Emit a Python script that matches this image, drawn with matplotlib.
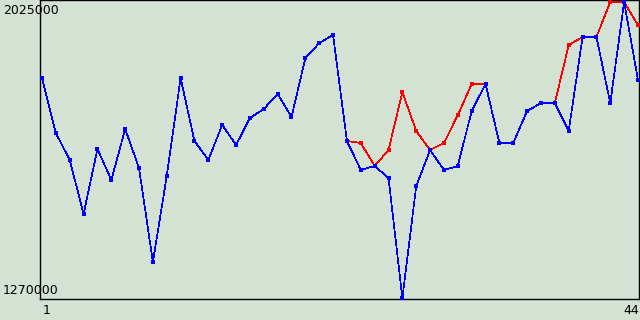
import matplotlib
matplotlib.use("Agg")
import matplotlib.pyplot as plt

# Data
days = list(range(1, 45))
blue_vals = [
    1829000, 1689000, 1621000, 1483500, 1649000, 1570000, 1699500, 1600500,
    1361500, 1580000, 1829000, 1669000, 1621000, 1710000, 1659000, 1727500,
    1750500, 1788500, 1730000, 1880000, 1918000, 1938500, 1669000, 1595500,
    1605500, 1575000, 1270000, 1554500, 1646000, 1595500, 1605500, 1745500,
    1814000, 1664000, 1664000, 1745500, 1765500, 1765500, 1694500, 1933500,
    1933500, 1765500, 2022500, 1824000,
]
red_vals = [
    1829000, 1689000, 1621000, 1483500, 1649000, 1570000, 1699500, 1600500,
    1361500, 1580000, 1829000, 1669000, 1621000, 1710000, 1659000, 1727500,
    1750500, 1788500, 1730000, 1880000, 1918000, 1938500, 1669000, 1664000,
    1605500, 1646000, 1793500, 1694500, 1646000, 1664000, 1735000, 1814000,
    1814000, 1664000, 1664000, 1745500, 1765500, 1765500, 1913000, 1933500,
    1933500, 2022500, 2022500, 1964000,
]
y_min, y_max = 1270000, 2025000
x_labels = ["1", "44"]

bg = "#d4e2d4"
fig = plt.figure(figsize=(6.4, 3.2), dpi=100, facecolor=bg)
ax = fig.add_axes([40 / 640, 21 / 320, 599 / 640, 299 / 320])
ax.set_facecolor(bg)

# thin aliased lines, small square markers on top
for vals, col, z in [(red_vals, "red", 2), (blue_vals, "blue", 4)]:
    ax.plot(days, vals, color=col, lw=0.5, antialiased=False, zorder=z)
    ax.plot(days, vals, color=col, ls="none", marker="s", ms=2.4, mew=0,
            zorder=z + 1)

px = (days[-1] - days[0]) / 596
ax.set_xlim(days[0] - 2 * px, days[-1] + 1 * px)
py = (y_max - y_min) / 297
ax.set_ylim(y_min - 1 * py, y_max + 1 * py)
ax.set_xticks([])
ax.set_yticks([])
for s in ax.spines.values():
    s.set_color("black")
    s.set_linewidth(1.0)

font = dict(family="DejaVu Sans", size=9, color="black")
fig.text(3 / 640, 1 - 4 / 320, f"{y_max}", ha="left", va="top", **font)
fig.text(3 / 640, 1 - 297 / 320, f"{y_min}", ha="left", va="bottom", **font)
fig.text(43 / 640, 1 - 304 / 320, x_labels[0], ha="left", va="top", **font)
fig.text(639 / 640, 1 - 304 / 320, x_labels[1], ha="right", va="top", **font)

fig.savefig("out.png", dpi=100, facecolor=bg)
